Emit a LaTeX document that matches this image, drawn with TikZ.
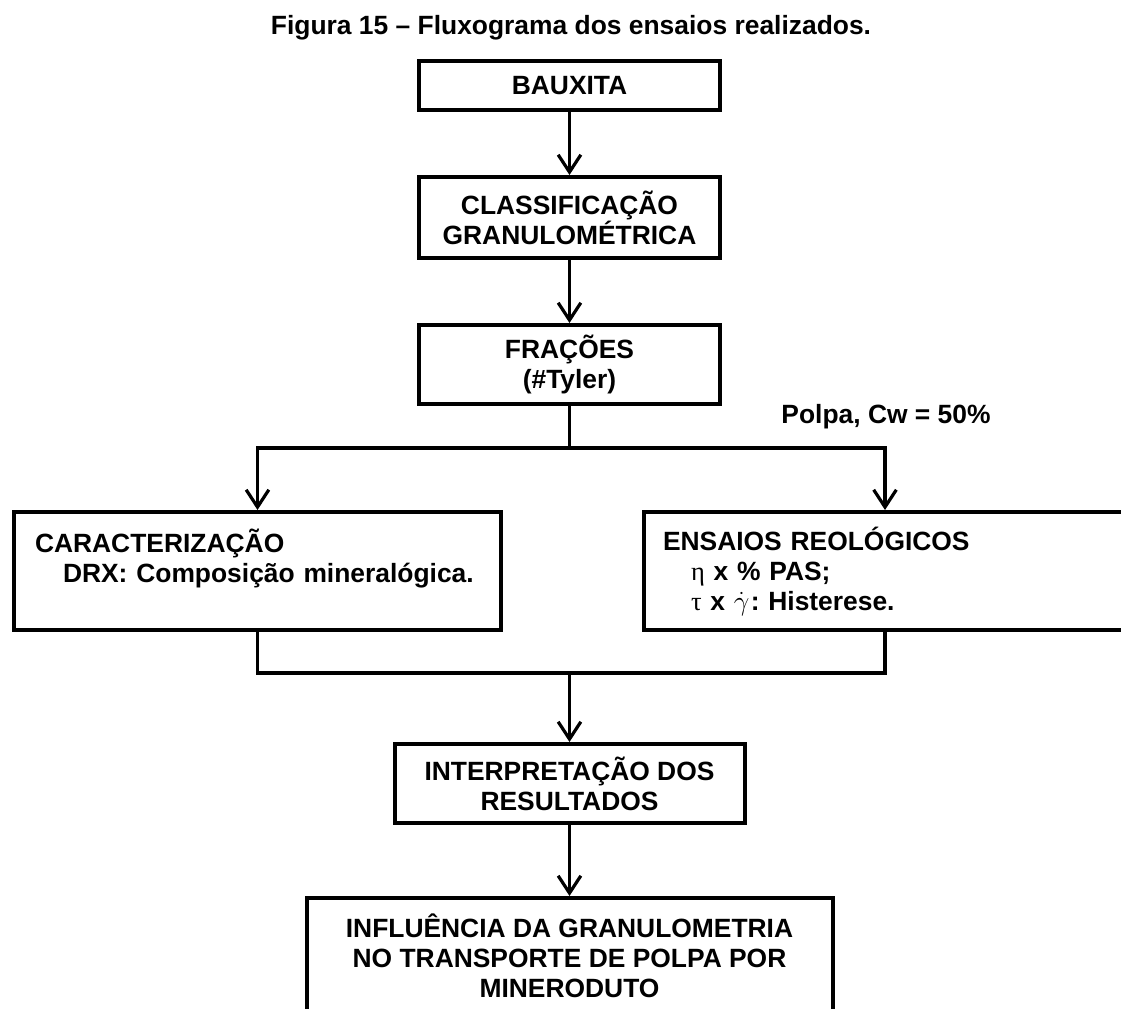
\documentclass[tikz,border=0pt]{standalone}
\usepackage{fontspec}
\setmainfont{Liberation Sans}
\newfontfamily\grego{Liberation Serif}
\usepackage{tikz}
\usetikzlibrary{arrows.meta,positioning}

\begin{document}
\begin{tikzpicture}[x=.75pt,y=-.75pt,
	caixa/.style={draw,line width=3pt,inner sep=0pt,align=center},
	seta/.style={line width=2.4pt,-{Straight Barb[length=13pt,width=17pt]}},
	liga/.style={line width=2.6pt},
	every node/.style={font=\fontsize{19.8}{22.5}\selectfont\bfseries\frenchspacing}]
	\useasboundingbox (0,0) rectangle (1121,1009);
	\clip (0,0) rectangle (1121,1009);
	\node (titulo) at (571,28) {Figura 15 – Fluxograma dos ensaios realizados.};
	\node[caixa,minimum width=225.75pt,minimum height=36.75pt] (bauxita) at (569.5,85.5) {BAUXITA};
	\node[caixa,minimum width=225.75pt,minimum height=60.75pt] (classif) at (569.5,217.5) {CLASSIFICAÇÃO\\GRANULOMÉTRICA};
	\node[caixa,minimum width=225.75pt,minimum height=59.25pt] (fracoes) at (569.5,364.5) {FRAÇÕES\\(\#Tyler)};
	\node[caixa,minimum width=365.25pt,minimum height=88.5pt,text width=333.75pt,align=left] (caract) at (257.5,571)
		{CARACTERIZAÇÃO\\\hspace*{21pt}DRX: Composição mineralógica.\\\mbox{}};
	\node[caixa,minimum width=361.5pt,minimum height=88.5pt,text width=333pt,align=left] (ensaios) at (885,571)
		{ENSAIOS REOLÓGICOS\\\hspace*{21pt}{\grego\mdseries η} x \% PAS;\\\hspace*{21pt}{\grego\mdseries τ} x $\dot{\gamma}$\kern1pt: Histerese.};
	\node (polpa) at (886,417) {Polpa, Cw = 50\%};
	\node[caixa,minimum width=262.5pt,minimum height=59.25pt] (interp) at (569.5,783.5) {INTERPRETAÇÃO DOS\\RESULTADOS};
	\node[caixa,minimum width=394.5pt,minimum height=87pt] (influ) at (569.5,956) {INFLUÊNCIA DA GRANULOMETRIA\\NO TRANSPORTE DE POLPA POR\\MINERODUTO};
	\foreach \a/\b in {bauxita/classif,classif/fracoes,interp/influ}
		\draw[seta] (\a.south) -- (\b.north);
	\coordinate (ramo) at (569.5,448);
	\coordinate (juncao) at (569.5,673);
	\draw[liga] (fracoes.south) -- (ramo);
	\draw[seta] (ramo) -| (caract.north);
	\draw[seta] (ramo) -| (ensaios.north);
	\draw[liga] (caract.south) |- (juncao) -| (ensaios.south);
	\draw[seta] (juncao) -- (interp.north);
\end{tikzpicture}
\end{document}
